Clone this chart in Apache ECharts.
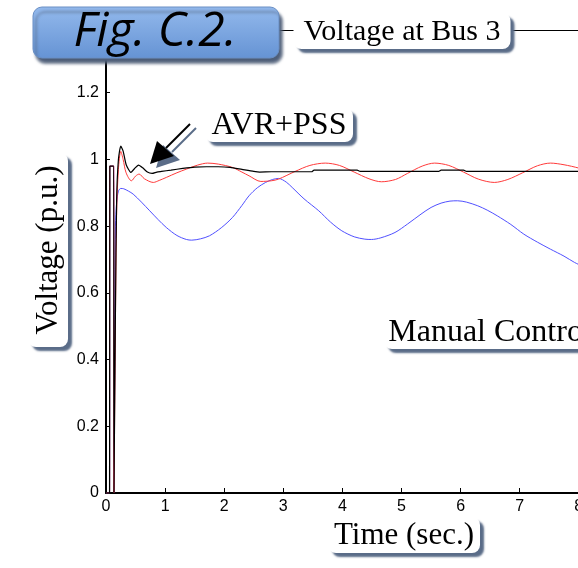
<!DOCTYPE html>
<html>
<head>
<meta charset="utf-8">
<script src="https://cdn.jsdelivr.net/npm/echarts@6/dist/echarts.min.js"></script>
<style>
  html, body { margin: 0; padding: 0; background: #fff; }
  #chart { width: 578px; height: 568px; }
</style>
</head>
<body>
<div id="chart"></div>
<script>
// time (s) / voltage (p.u.)
const tAvrPss = [0, 0.06, 0.065, 0.13, 0.135, 0.145, 0.16, 0.18, 0.21, 0.25, 0.29, 0.34, 0.42, 0.48, 0.55, 0.62, 0.7, 0.78, 0.86, 0.94,
  1.1, 1.3, 1.5, 1.7, 1.9, 2.1, 2.3, 2.5, 2.6, 2.8, 3.0, 3.3, 3.48, 3.52, 4.25, 4.3, 5.63, 5.67, 6.05, 6.1, 7.0, 8.2];
const vAvrPss = [0, 0, 0.98, 0.98, 0, 0, 0.55, 0.88, 1.0, 1.04, 1.025, 0.985, 0.961, 0.972, 0.983, 0.975, 0.962, 0.958, 0.962, 0.964,
  0.968, 0.973, 0.977, 0.978, 0.978, 0.976, 0.970, 0.964, 0.962, 0.963, 0.963, 0.963, 0.963, 0.968, 0.968, 0.964, 0.964, 0.968, 0.968, 0.964, 0.964, 0.964];

const tAvr = [0, 0.06, 0.065, 0.13, 0.135, 0.145, 0.16, 0.18, 0.21, 0.25, 0.29, 0.34, 0.43, 0.5, 0.56, 0.65, 0.8, 0.9, 1.02, 1.2,
  1.36, 1.55, 1.72, 1.9, 2.14, 2.3, 2.42, 2.62, 2.8, 2.92, 3.2, 3.45, 3.71, 3.95, 4.2, 4.45, 4.66, 4.9, 5.1, 5.35,
  5.56, 5.8, 6.05, 6.3, 6.57, 6.8, 7.05, 7.3, 7.52, 7.75, 8.0, 8.2];
const vAvr = [0, 0, 0.98, 0.98, 0, 0, 0.52, 0.84, 0.97, 1.024, 1.0, 0.96, 0.936, 0.95, 0.956, 0.942, 0.931, 0.937, 0.946, 0.96,
  0.971, 0.983, 0.989, 0.986, 0.976, 0.962, 0.951, 0.934, 0.936, 0.941, 0.964, 0.982, 0.989, 0.982, 0.962, 0.942, 0.933, 0.94, 0.958, 0.98,
  0.989, 0.982, 0.962, 0.941, 0.931, 0.94, 0.96, 0.981, 0.989, 0.984, 0.974, 0.962];

const tManual = [0, 0.06, 0.065, 0.13, 0.135, 0.14, 0.15, 0.16, 0.18, 0.21, 0.25, 0.3, 0.38, 0.46, 0.6, 0.74, 0.88, 1.02, 1.2, 1.36,
  1.45, 1.6, 1.75, 1.95, 2.14, 2.3, 2.42, 2.56, 2.7, 2.82, 2.92, 3.05, 3.15, 3.35, 3.6, 3.8, 3.99, 4.2, 4.38, 4.49,
  4.65, 4.89, 5.1, 5.33, 5.5, 5.67, 5.82, 5.95, 6.1, 6.29, 6.45, 6.62, 6.85, 7.07, 7.3, 7.52, 7.75, 7.93, 8.2];
const vManual = [0, 0, 0.98, 0.98, 0, 0, 0.45, 0.8, 0.87, 0.905, 0.913, 0.912, 0.905, 0.896, 0.872, 0.846, 0.82, 0.796, 0.772, 0.76,
  0.758, 0.762, 0.771, 0.795, 0.826, 0.862, 0.891, 0.915, 0.931, 0.94, 0.943, 0.932, 0.916, 0.882, 0.846, 0.812, 0.786, 0.768, 0.761, 0.76,
  0.765, 0.781, 0.806, 0.836, 0.856, 0.869, 0.875, 0.876, 0.872, 0.861, 0.848, 0.831, 0.805, 0.776, 0.752, 0.731, 0.71, 0.691, 0.668];

const yTicks = [0, 0.2, 0.4, 0.6, 0.8, 1, 1.2];

const pairs = (t, v) => t.map((x, i) => [x, v[i]]);

const serif = "'Liberation Serif', 'DejaVu Serif', serif";
const sans = "'Liberation Sans', Arial, sans-serif";
const shadowCol = "#5a6c88";

// white rounded label box with a slate drop shadow
function labelBox(x, y, w, h, text, size, rotation) {
  return {
    type: "group",
    x: x,
    y: y,
    rotation: rotation || 0,
    z: 100,
    children: [
      {
        type: "rect",
        z: 100,
        shape: { x: -w / 2, y: -h / 2, width: w, height: h, r: 8 },
        style: {
          fill: "#fff",
          shadowColor: shadowCol,
          shadowBlur: 2,
          shadowOffsetX: 4,
          shadowOffsetY: 4,
        },
      },
      {
        type: "text",
        z: 101,
        style: {
          text: text,
          x: 0,
          y: 1,
          font: size + "px " + serif,
          fill: "#000",
          textAlign: "center",
          textVerticalAlign: "middle",
        },
      },
    ],
  };
}

const chart = echarts.init(document.getElementById("chart"));

const option = {
  animation: false,
  backgroundColor: "#fff",
  grid: {
    left: 106,
    top: 30,
    width: 591,
    height: 463,
    outerBoundsMode: "none",
    containLabel: false,
  },
  xAxis: [
    {
      type: "value",
      min: 0,
      max: 10,
      interval: 1,
      axisLine: { show: true, onZero: false, lineStyle: { color: "#000", width: 2 } },
      axisTick: { show: true, inside: true, length: 5, lineStyle: { color: "#000", width: 1 } },
      axisLabel: { color: "#000", fontSize: 16, fontFamily: sans, margin: 6 },
      splitLine: { show: false },
    },
    {
      // top frame line
      type: "value",
      position: "top",
      min: 0,
      max: 10,
      axisLine: { show: true, onZero: false, lineStyle: { color: "#000", width: 1 } },
      axisTick: { show: false },
      axisLabel: { show: false },
      splitLine: { show: false },
    },
  ],
  yAxis: {
    type: "value",
    min: 0,
    max: 1.388,
    interval: 0.2,
    axisLine: { show: true, onZero: false, lineStyle: { color: "#000", width: 2 } },
    axisTick: { show: true, inside: true, length: 4, lineStyle: { color: "#000", width: 1 } },
    axisLabel: {
      color: "#000",
      fontSize: 16,
      fontFamily: sans,
      margin: 7,
      showMaxLabel: false,
      formatter: (v) => (yTicks.some((t) => Math.abs(t - v) < 1e-6) ? String(+v.toFixed(1)) : ""),
    },
    splitLine: { show: false },
  },
  series: [
    {
      name: "Manual Control",
      type: "line",
      data: pairs(tManual, vManual),
      showSymbol: false,
      smooth: 0.3,
      lineStyle: { color: "#5050ff", width: 1 },
      z: 2,
    },
    {
      name: "AVR",
      type: "line",
      data: pairs(tAvr, vAvr),
      showSymbol: false,
      smooth: 0.3,
      lineStyle: { color: "#ff3a3a", width: 1 },
      z: 3,
    },
    {
      name: "AVR+PSS",
      type: "line",
      data: pairs(tAvrPss, vAvrPss),
      showSymbol: false,
      smooth: 0.2,
      lineStyle: { color: "#000", width: 1.2 },
      z: 4,
    },
  ],
  graphic: [
    // figure tag
    {
      type: "group",
      z: 100,
      children: [
        {
          type: "rect",
          z: 100,
          shape: { x: 33, y: 7, width: 246, height: 51, r: 9 },
          style: {
            fill: new echarts.graphic.LinearGradient(0, 0, 0, 1, [
              { offset: 0, color: "#93b9ec" },
              { offset: 1, color: "#6593d4" },
            ]),
            stroke: "#6a8fc4",
            lineWidth: 1,
            shadowColor: "#4e5e78",
            shadowBlur: 3,
            shadowOffsetX: 3,
            shadowOffsetY: 5,
          },
        },
        {
          type: "text",
          z: 101,
          style: {
            text: "Fig. C.2.",
            x: 155,
            y: 32,
            font: "italic 48px 'Open Sans', 'Noto Sans', sans-serif",
            fill: "#000",
            textAlign: "center",
            textVerticalAlign: "middle",
          },
        },
      ],
    },
    labelBox(402, 31, 217, 36, "Voltage at Bus 3", 30),
    labelBox(279, 125, 148, 34, "AVR+PSS", 32),
    labelBox(490, 332, 212, 34, "Manual Control", 32),
    labelBox(404, 535, 152, 36, "Time (sec.)", 31),
    labelBox(48, 250, 194, 40, "Voltage (p.u.)", 31, Math.PI / 2),
    // arrow pointing at the AVR+PSS curve, with its shadow
    {
      type: "group",
      x: 6,
      y: 4,
      z: 99,
      children: [
        { type: "line", z: 99, shape: { x1: 190, y1: 124, x2: 166, y2: 148 }, style: { stroke: shadowCol, lineWidth: 2 } },
        { type: "polygon", z: 99, shape: { points: [[150, 164], [157, 141], [174, 156]] }, style: { fill: shadowCol } },
      ],
    },
    {
      type: "group",
      z: 100,
      children: [
        { type: "line", z: 100, shape: { x1: 190, y1: 124, x2: 166, y2: 148 }, style: { stroke: "#000", lineWidth: 2 } },
        { type: "polygon", z: 100, shape: { points: [[150, 164], [157, 141], [174, 156]] }, style: { fill: "#000" } },
      ],
    },
  ],
};

chart.setOption(option);
</script>
</body>
</html>
